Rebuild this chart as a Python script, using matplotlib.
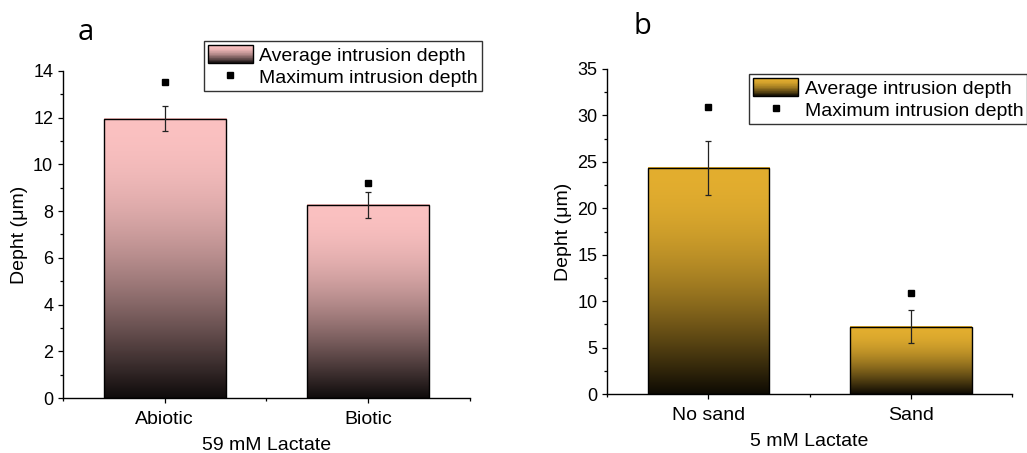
import numpy as np
import matplotlib
matplotlib.use('Agg')
import matplotlib.pyplot as plt
from matplotlib.patches import Rectangle
from matplotlib.legend_handler import HandlerBase
from matplotlib.colors import to_rgb
from matplotlib.ticker import MultipleLocator, FixedLocator

plt.rcParams['font.family'] = ['Liberation Sans', 'DejaVu Sans']

# panel a: 59 mM lactate
cats_a = ['Abiotic', 'Biotic']
avg_a = [11.95, 8.27]
err_a = [0.54, 0.57]
max_a = [13.52, 9.22]

# panel b: 5 mM lactate
cats_b = ['No sand', 'Sand']
avg_b = [24.35, 7.27]
err_b = [2.9, 1.8]
max_b = [30.95, 10.85]

PINK = '#fbc1c1'
GOLD = '#e3ae2f'


def shade(top, n=256):
    top = np.array(to_rgb(top))
    lo = top * 0.06
    t = np.linspace(0, 1, n)
    f = np.sin(t * np.pi / 2)[:, None]
    return lo + (top - lo) * f


class GradHandler(HandlerBase):
    def create_artists(self, legend, orig, xd, yd, w, h, fs, trans):
        cols = shade(orig.get_facecolor(), 30)
        n = len(cols)
        arts = []
        for i, c in enumerate(cols):
            arts.append(Rectangle((-xd, -yd + h * i / n), w, h / n * 1.1,
                                  facecolor=c, edgecolor='none', transform=trans))
        arts.append(Rectangle((-xd, -yd), w, h, fill=False, edgecolor='black',
                              lw=1.0, transform=trans))
        return arts


def panel(ax, cats, avg, err, mx, color, ymax, step, xlabel, anchor, loc):
    x = np.arange(1, len(cats) + 1)
    bars = ax.bar(x, avg, width=0.6, facecolor='none', edgecolor='black',
                  lw=1.0, zorder=3)
    for r in bars:
        img = shade(color)[:, None, :]
        ax.imshow(img, origin='lower', aspect='auto', zorder=2,
                  extent=[r.get_x(), r.get_x() + r.get_width(), 0, r.get_height()])
    ax.errorbar(x, avg, yerr=err, fmt='none', ecolor='#222222', elinewidth=0.9,
                capsize=2.5, capthick=0.9, zorder=4)
    pts, = ax.plot(x, mx, 's', color='black', ms=5, zorder=5)

    ax.set_xlim(0.5, len(cats) + 0.5)
    ax.set_ylim(0, ymax)
    ax.set_xticks(x)
    ax.set_xticklabels(cats)
    ax.xaxis.set_minor_locator(FixedLocator([0.5, 1.5, 2.5]))
    ax.yaxis.set_major_locator(MultipleLocator(step))
    ax.yaxis.set_minor_locator(MultipleLocator(step / 2))
    for s in ['top', 'right']:
        ax.spines[s].set_visible(False)
    for s in ['left', 'bottom']:
        ax.spines[s].set_linewidth(1.0)
    ax.tick_params(which='major', direction='out', length=3.5, width=0.9)
    ax.tick_params(which='minor', direction='out', length=2.0, width=0.9)
    ax.tick_params(axis='y', labelsize=13)
    ax.tick_params(axis='x', labelsize=14, pad=6)
    ax.set_xlabel(xlabel, fontsize=14, labelpad=6)
    ax.set_ylabel('Depht (μm)', fontsize=14)

    proxy = Rectangle((0, 0), 1, 1, facecolor=color)
    leg = ax.legend([proxy, pts], ['Average intrusion depth', 'Maximum intrusion depth'],
                    handler_map={proxy: GradHandler()}, loc=loc,
                    bbox_to_anchor=anchor, bbox_transform=fig.transFigure,
                    fontsize=14, frameon=True, fancybox=False, framealpha=1,
                    edgecolor='#333333', borderpad=0.2, labelspacing=0.15,
                    handlelength=2.3, handleheight=1.1, handletextpad=0.35,
                    borderaxespad=0)
    leg.get_frame().set_linewidth(1.0)
    return leg


fig = plt.figure(figsize=(10.27, 4.53), dpi=100)
ax1 = fig.add_axes([0.0613, 0.1214, 0.3963, 0.7219])
ax2 = fig.add_axes([0.5913, 0.1302, 0.3941, 0.7175])

panel(ax1, cats_a, avg_a, err_a, max_a, PINK, 14, 2, '59 mM Lactate',
      (482 / 1027, 1 - 40.7 / 453), 'upper right')
panel(ax2, cats_b, avg_b, err_b, max_b, GOLD, 35, 5, '5 mM Lactate',
      (749.3 / 1027, 1 - 73.7 / 453), 'upper left')

fig.text(86 / 1027, 1 - 32 / 453, 'a', ha='center', va='center', fontsize=21,
         family=['Open Sans', 'DejaVu Sans'])
fig.text(642 / 1027, 1 - 26 / 453, 'b', ha='center', va='center', fontsize=21,
         family=['Open Sans', 'DejaVu Sans'])

fig.savefig('out.png', dpi=100)
